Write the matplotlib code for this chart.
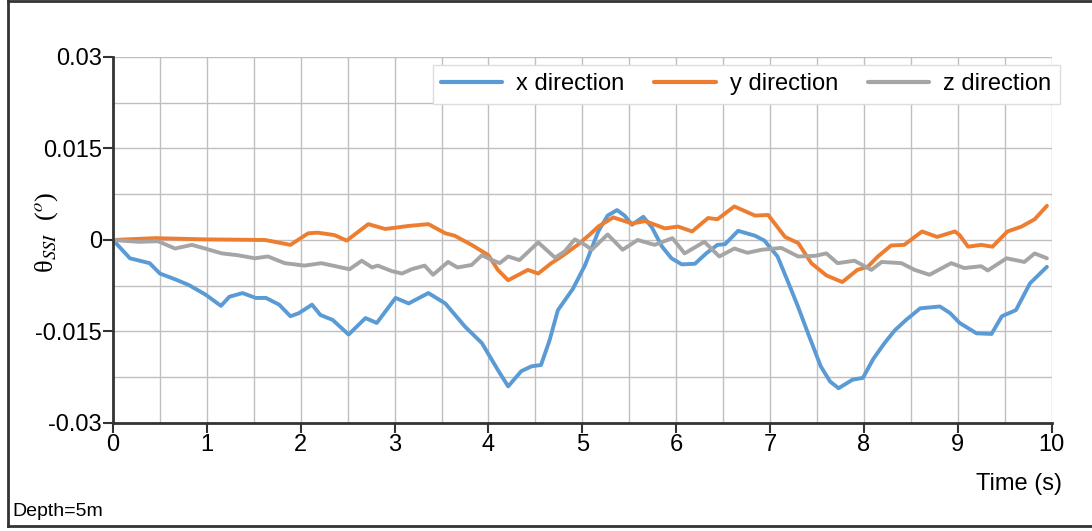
import numpy as np
import matplotlib
matplotlib.use("Agg")
from matplotlib import pyplot as plt
from matplotlib.lines import Line2D

plt.rcParams['font.family'] = ['Liberation Sans', 'DejaVu Sans']
plt.rcParams['mathtext.fontset'] = 'stix'

# x direction
t_x = [0, 0.18, 0.39, 0.50, 0.67, 0.81, 0.99, 1.15, 1.24, 1.38, 1.52, 1.63, 1.77, 1.89, 1.98,
       2.12, 2.21, 2.34, 2.51, 2.69, 2.81, 3.01, 3.15, 3.36, 3.54, 3.75, 3.93, 4.10, 4.21, 4.35,
       4.46, 4.56, 4.65, 4.74, 4.90, 5.03, 5.17, 5.27, 5.37, 5.45, 5.53, 5.65, 5.74, 5.85, 5.95,
       6.06, 6.20, 6.32, 6.44, 6.52, 6.66, 6.84, 6.94, 7.08, 7.19, 7.30, 7.39, 7.54, 7.64, 7.73,
       7.88, 7.99, 8.10, 8.22, 8.33, 8.45, 8.60, 8.81, 8.92, 9.02, 9.20, 9.36, 9.47, 9.62, 9.77,
       9.95]
v_x = [0, -0.0030, -0.0038, -0.0055, -0.0065, -0.0074, -0.0090, -0.0108, -0.0093, -0.0087,
       -0.0095, -0.0095, -0.0106, -0.0125, -0.0120, -0.0106, -0.0123, -0.0131, -0.0155, -0.0128,
       -0.0136, -0.0095, -0.0104, -0.0087, -0.0104, -0.0142, -0.0169, -0.0213, -0.0240, -0.0215,
       -0.0207, -0.0205, -0.0165, -0.0115, -0.0080, -0.0041, 0.0014, 0.0040, 0.0049, 0.0040,
       0.0025, 0.0038, 0.0021, -0.0011, -0.0030, -0.0040, -0.0039, -0.0022, -0.0008, -0.0007,
       0.0015, 0.0007, -0.0001, -0.0027, -0.0068, -0.0110, -0.0147, -0.0207, -0.0232, -0.0243,
       -0.0229, -0.0226, -0.0195, -0.0169, -0.0148, -0.0131, -0.0112, -0.0109, -0.0120, -0.0136,
       -0.0153, -0.0154, -0.0125, -0.0115, -0.0071, -0.0044]

# y direction
t_y = [0, 0.45, 0.98, 1.62, 1.89, 2.08, 2.18, 2.36, 2.49, 2.72, 2.90, 3.15, 3.36, 3.54, 3.64,
       3.82, 4.00, 4.10, 4.21, 4.42, 4.53, 4.67, 4.78, 4.95, 5.08, 5.17, 5.33, 5.53, 5.67, 5.88,
       6.02, 6.17, 6.34, 6.44, 6.62, 6.84, 6.98, 7.16, 7.30, 7.44, 7.60, 7.77, 7.93, 8.04, 8.15,
       8.29, 8.43, 8.62, 8.78, 8.97, 9.02, 9.11, 9.25, 9.37, 9.53, 9.68, 9.82, 9.95]
v_y = [0, 0.0003, 0.0001, 0, -0.0008, 0.0011, 0.0012, 0.0008, -0.0001, 0.0026, 0.0018, 0.0023,
       0.0026, 0.0011, 0.0007, -0.0008, -0.0025, -0.0049, -0.0066, -0.0049, -0.0055, -0.0038,
       -0.0027, -0.0008, 0.0009, 0.0022, 0.0037, 0.0027, 0.0031, 0.0019, 0.0022, 0.0014, 0.0036,
       0.0034, 0.0055, 0.0040, 0.0041, 0.0005, -0.0005, -0.0038, -0.0058, -0.0069, -0.0049,
       -0.0044, -0.0027, -0.0009, -0.0008, 0.0014, 0.0005, 0.0014, 0.0008, -0.0011, -0.0008,
       -0.0011, 0.0014, 0.0022, 0.0034, 0.0056]

# z direction
t_z = [0, 0.27, 0.48, 0.66, 0.84, 0.98, 1.16, 1.33, 1.51, 1.65, 1.83, 2.04, 2.22, 2.40, 2.52,
       2.65, 2.76, 2.82, 2.97, 3.08, 3.18, 3.32, 3.41, 3.57, 3.67, 3.82, 3.93, 4.04, 4.12, 4.21,
       4.33, 4.53, 4.71, 4.81, 4.92, 5.03, 5.10, 5.27, 5.43, 5.59, 5.77, 5.96, 6.09, 6.30, 6.46,
       6.62, 6.76, 6.91, 7.12, 7.30, 7.48, 7.60, 7.72, 7.90, 8.08, 8.19, 8.40, 8.54, 8.70, 8.93,
       9.07, 9.25, 9.32, 9.52, 9.71, 9.82, 9.95]
v_z = [0, -0.0003, -0.0002, -0.0014, -0.0008, -0.0014, -0.0022, -0.0025, -0.0030, -0.0027,
       -0.0038, -0.0042, -0.0038, -0.0044, -0.0048, -0.0034, -0.0045, -0.0042, -0.0051, -0.0055,
       -0.0048, -0.0042, -0.0057, -0.0036, -0.0045, -0.0041, -0.0025, -0.0033, -0.0038, -0.0027,
       -0.0033, -0.0004, -0.0029, -0.0019, 0.0001, -0.0008, -0.0016, 0.0009, -0.0016, 0, -0.0008,
       0.0003, -0.0022, -0.0003, -0.0027, -0.0014, -0.0021, -0.0016, -0.0013, -0.0027, -0.0026,
       -0.0022, -0.0038, -0.0034, -0.0049, -0.0036, -0.0038, -0.0049, -0.0057, -0.0038, -0.0046,
       -0.0043, -0.0050, -0.0030, -0.0036, -0.0022, -0.0030]

labels = ["x direction", "y direction", "z direction"]
colors = ["#5B9BD5", "#ED7D31", "#A5A5A5"]
y_ticks = [-0.03, -0.015, 0, 0.015, 0.03]
y_ticklabels = ["-0.03", "-0.015", "0", "0.015", "0.03"]

fig = plt.figure(figsize=(10.92, 5.31), dpi=100)
ax = fig.add_axes([0.1035, 0.2034, 0.8595, 0.6893])

for t, v, lab, c in zip([t_x, t_y, t_z], [v_x, v_y, v_z], labels, colors):
    ax.plot(t, v, color=c, lw=2.8, label=lab, solid_joinstyle='round', solid_capstyle='round')

ax.set_xlim(0, 10)
ax.set_ylim(-0.03, 0.03)
ax.set_xticks(range(11))
ax.set_xticks(np.arange(0.5, 10, 1), minor=True)
ax.set_yticks(y_ticks)
ax.set_yticklabels(y_ticklabels)
ax.set_yticks([-0.0225, -0.0075, 0.0075, 0.0225], minor=True)
ax.grid(True, which='both', color='#bfbfbf', lw=1)
ax.set_axisbelow(True)
ax.tick_params(which='major', direction='out', length=7, width=1.5, color='#333333',
               labelsize=17, pad=1)
ax.tick_params(which='minor', length=0)

for s in ['top', 'right']:
    ax.spines[s].set_visible(False)
for s in ['left', 'bottom']:
    ax.spines[s].set_color('#333333')
    ax.spines[s].set_linewidth(2)

ax.set_ylabel(r'θ$_{SSI}$  ($^{o}$)', fontsize=19, family=['Liberation Serif', 'DejaVu Serif'])
ax.yaxis.set_label_coords(-0.057, 0.52)

ax.text(1.011, -0.168, "Time (s)", transform=ax.transAxes, ha='right', va='center', fontsize=17)
fig.text(0.011, 0.036, "Depth=5m", ha='left', va='center', fontsize=14)

leg = ax.legend(loc='upper right', bbox_to_anchor=(1.021, 1.01), ncol=3, fontsize=17,
                frameon=True, fancybox=False, edgecolor='#dddddd', framealpha=1,
                handlelength=2.6, handletextpad=0.6, columnspacing=1.25, borderpad=0.35)
for h in leg.get_lines():
    h.set_linewidth(3)

# outer frame (open on the right)
fc = '#333333'
fig.add_artist(Line2D([0.0075, 0.0075], [0.009, 0.998], color=fc, lw=2))
fig.add_artist(Line2D([0.0075, 1.0], [0.998, 0.998], color=fc, lw=2))
fig.add_artist(Line2D([0.0075, 1.0], [0.009, 0.009], color=fc, lw=2))

fig.savefig("out.png", dpi=100)
